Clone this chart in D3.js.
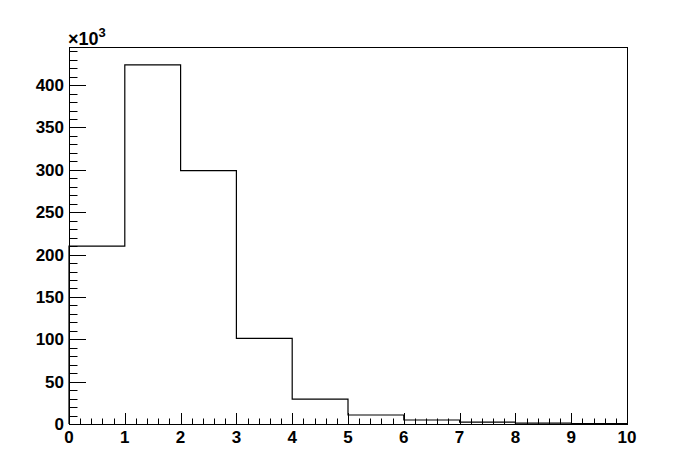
<!DOCTYPE html>
<html><head><meta charset="utf-8">
<script src="https://cdnjs.cloudflare.com/ajax/libs/d3/7.8.5/d3.min.js"></script>
<style>body{margin:0;background:#fff}svg{display:block}text{font-family:"Liberation Sans",Arial,sans-serif;font-weight:bold}</style>
</head><body><svg id="c" width="696" height="472"></svg>
<script>
const binEdges = [0,1,2,3,4,5,6,7,8,9,10];
const binValues = [210, 424, 299, 101, 29.3, 10.6, 4.7, 2.3, 1.0, 0.5]; // x10^3
const xTicks = [0,1,2,3,4,5,6,7,8,9,10];
const yTicks = [0,50,100,150,200,250,300,350,400];
const yMax = 445;

const svg = d3.select("#c");
const L=69, R=627, T=47, B=424;
const x = d3.scaleLinear().domain([0,10]).range([L,R]);
const y = d3.scaleLinear().domain([0,yMax]).range([B,T]);

svg.append("rect").attr("width",696).attr("height",472).attr("fill","#fff");

// histogram step path
let pts = [];
binValues.forEach((v,i)=>{ pts.push([x(binEdges[i]), y(v)]); pts.push([x(binEdges[i+1]), y(v)]); });
let d = `M${x(0)},${y(0)}`;
pts.forEach(p=>{ d += `L${p[0]},${p[1]}`; });
d += `L${x(10)},${y(0)}`;
svg.append("path").attr("d",d).attr("fill","none").attr("stroke","#000").attr("stroke-width",1.2);

// frame
svg.append("rect").attr("x",L+0.5).attr("y",T+0.5).attr("width",R-L).attr("height",B-T)
  .attr("fill","none").attr("stroke","#000").attr("stroke-width",1);

// y axis ticks
const gy = svg.append("g");
for (let v=0; v<=yMax; v+=10) {
  const major = v%50===0;
  gy.append("line").attr("x1",L).attr("x2",L+(major?17:8.5))
    .attr("y1",Math.round(y(v))+0.5).attr("y2",Math.round(y(v))+0.5).attr("stroke","#000");
}
yTicks.forEach(v=>{
  gy.append("text").attr("x",64).attr("y",y(v)+6).attr("text-anchor","end")
    .attr("font-size",17).text(v);
});

// x axis ticks
const gx = svg.append("g");
for (let i=0;i<=50;i++){
  const v=i/5, major=i%5===0;
  gx.append("line").attr("x1",Math.round(x(v))+0.5).attr("x2",Math.round(x(v))+0.5)
    .attr("y1",B).attr("y2",B-(major?11:5.5)).attr("stroke","#000");
}
xTicks.forEach(v=>{
  gx.append("text").attr("x",x(v)).attr("y",443).attr("text-anchor","middle")
    .attr("font-size",17).text(v);
});

// x10^3 label
const ex = svg.append("text").attr("x",68).attr("y",45).attr("font-size",18);
ex.append("tspan").text("\u00d710");
ex.append("tspan").attr("dy",-8).attr("font-size",13).text("3");
</script></body></html>
